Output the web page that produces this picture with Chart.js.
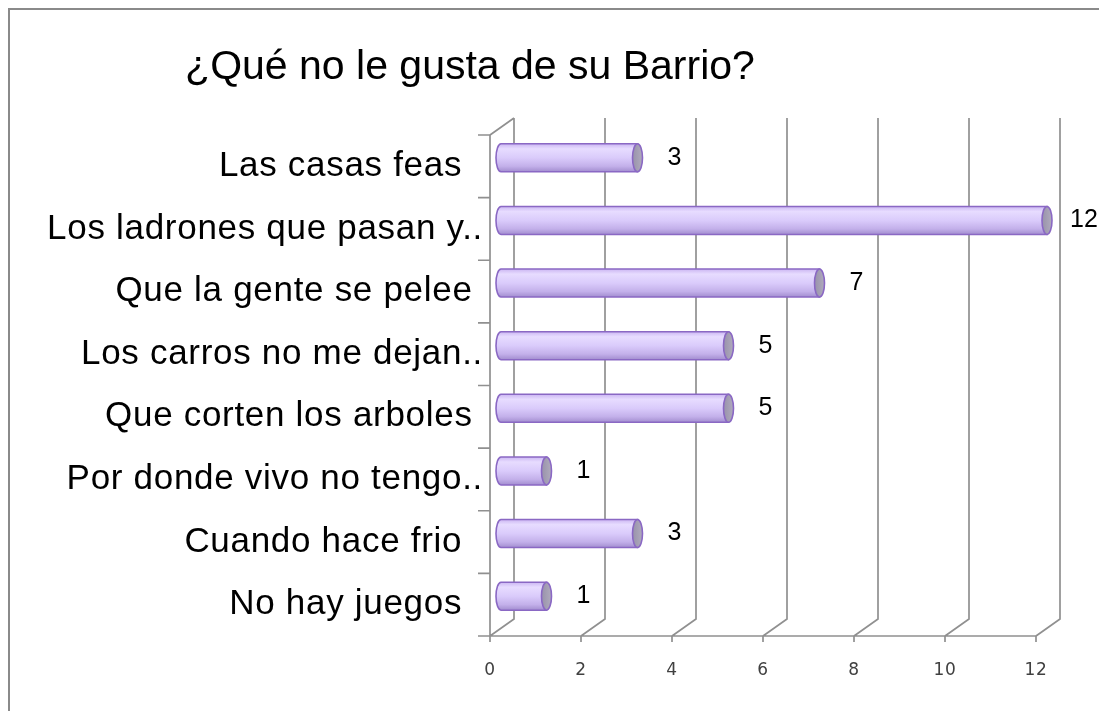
<!DOCTYPE html>
<html>
<head>
<meta charset="utf-8">
<script src="https://cdn.jsdelivr.net/npm/chart.js@4/dist/chart.umd.min.js"></script>
<style>
  html, body { margin: 0; background: #fff; }
</style>
</head>
<body>
<canvas id="chart" width="1099" height="711"></canvas>
<script>
var title = "¿Qué no le gusta de su Barrio?";
var categories = ["Las casas feas  ", "Los ladrones que pasan y..", "Que la gente se pelee ", "Los carros no me dejan..",
                  "Que corten los arboles ", "Por donde vivo no tengo..", "Cuando hace frio  ", "No hay juegos  "];
var values = [3, 12, 7, 5, 5, 1, 3, 1];
var xTicks = [0, 2, 4, 6, 8, 10, 12];

// 3d depth of the floor / walls
var DX = 24, DY = -17;

var wallsPlugin = {
    id: 'walls',
    beforeDraw: function (chart) {
        var ctx = chart.ctx;
        ctx.save();
        ctx.fillStyle = '#fff';
        ctx.fillRect(0, 0, chart.width, chart.height);
        ctx.strokeStyle = '#8a8a8a';
        ctx.lineWidth = 2;
        ctx.strokeRect(9, 9, chart.width + 20, chart.height + 20);
        ctx.fillStyle = '#000';
        ctx.font = '41px "Liberation Sans", Arial, sans-serif';
        ctx.textAlign = 'center';
        ctx.textBaseline = 'alphabetic';
        ctx.fillText(title, 470, 79);
        ctx.restore();
        // excel labels look a bit widely spaced
        ctx.letterSpacing = '0.7px';
    },
    beforeDatasetsDraw: function (chart) {
        var ctx = chart.ctx, a = chart.chartArea;
        var xs = chart.scales.x, ys = chart.scales.y;
        ctx.letterSpacing = '0px';
        ctx.save();
        ctx.strokeStyle = '#909090';
        ctx.lineWidth = 1.7;
        ctx.beginPath();
        xTicks.forEach(function (v) {
            var fx = xs.getPixelForValue(v);
            ctx.moveTo(fx, a.bottom + 6);
            ctx.lineTo(fx, a.bottom);
            ctx.lineTo(fx + DX, a.bottom + DY);
            ctx.lineTo(fx + DX, a.top + DY);
        });
        // left wall front edge and top
        ctx.moveTo(a.left + DX, a.top + DY);
        ctx.lineTo(a.left, a.top);
        ctx.lineTo(a.left, a.bottom);
        ctx.lineTo(a.right, a.bottom);
        for (var k = 0; k <= categories.length; k++) {
            var y = ys.getPixelForValue(k - 0.5);
            ctx.moveTo(a.left - 12, y);
            ctx.lineTo(a.left, y);
        }
        ctx.stroke();
        ctx.restore();
    },
    afterDatasetsDraw: function (chart) {
        var ctx = chart.ctx;
        var meta = chart.getDatasetMeta(0);
        var ox = DX / 2 - 1, oy = DY / 2;
        ctx.save();
        meta.data.forEach(function (bar, i) {
            var p = bar.getProps(['x', 'y', 'base', 'height'], true);
            var x0 = p.base + ox, x1 = p.x + ox, yc = p.y + oy, r = p.height / 2, rx = 5;
            var g = ctx.createLinearGradient(0, yc - r, 0, yc + r);
            g.addColorStop(0, '#cbb6f2');
            g.addColorStop(0.18, '#e7dcff');
            g.addColorStop(0.5, '#dacbfb');
            g.addColorStop(0.8, '#c3b0ea');
            g.addColorStop(1, '#a28dcf');
            ctx.beginPath();
            ctx.moveTo(x1, yc - r);
            ctx.lineTo(x0, yc - r);
            ctx.ellipse(x0, yc, rx, r, 0, -Math.PI / 2, Math.PI / 2, true);
            ctx.lineTo(x1, yc + r);
            ctx.closePath();
            ctx.fillStyle = g;
            ctx.fill();
            ctx.strokeStyle = '#8a68c4';
            ctx.lineWidth = 1.6;
            ctx.stroke();
            var gc = ctx.createLinearGradient(x1 - rx, 0, x1 + rx, 0);
            gc.addColorStop(0, '#9892aa');
            gc.addColorStop(1, '#b0abbd');
            ctx.beginPath();
            ctx.ellipse(x1, yc, rx, r, 0, 0, Math.PI * 2);
            ctx.fillStyle = gc;
            ctx.fill();
            ctx.stroke();
            ctx.fillStyle = '#000';
            ctx.font = '25px "Liberation Sans", Arial, sans-serif';
            ctx.textAlign = 'center';
            ctx.textBaseline = 'middle';
            ctx.fillText(String(values[i]), x1 + 37, yc);
        });
        ctx.restore();
    }
};

var chart = new Chart(document.getElementById("chart"), {
    type: 'bar',
    data: {
        labels: categories,
        datasets: [
            {
                data: values,
                backgroundColor: 'rgba(0,0,0,0)',
                borderWidth: 0,
                barThickness: 28
            }
        ]
    },
    options: {
        indexAxis: 'y',
        responsive: false,
        animation: false,
        layout: { padding: { top: 135, right: 63, left: 0, bottom: 0 } },
        plugins: {
            legend: { display: false },
            tooltip: { enabled: false },
            title: { display: false }
        },
        scales: {
            x: {
                type: 'linear',
                min: 0,
                max: 12,
                ticks: {
                    stepSize: 2,
                    padding: 24,
                    color: '#404040',
                    font: { family: 'DejaVu Sans', size: 17 }
                },
                grid: { display: false, drawTicks: false },
                border: { display: false },
                afterFit: function (s) { s.height = 75; }
            },
            y: {
                ticks: {
                    padding: 7,
                    color: '#000',
                    autoSkip: false,
                    font: { family: '"Liberation Sans", Arial, sans-serif', size: 35 }
                },
                grid: { display: false, drawTicks: false },
                border: { display: false },
                afterFit: function (s) { s.width = 490; }
            }
        }
    },
    plugins: [wallsPlugin]
});
</script>
</body>
</html>
